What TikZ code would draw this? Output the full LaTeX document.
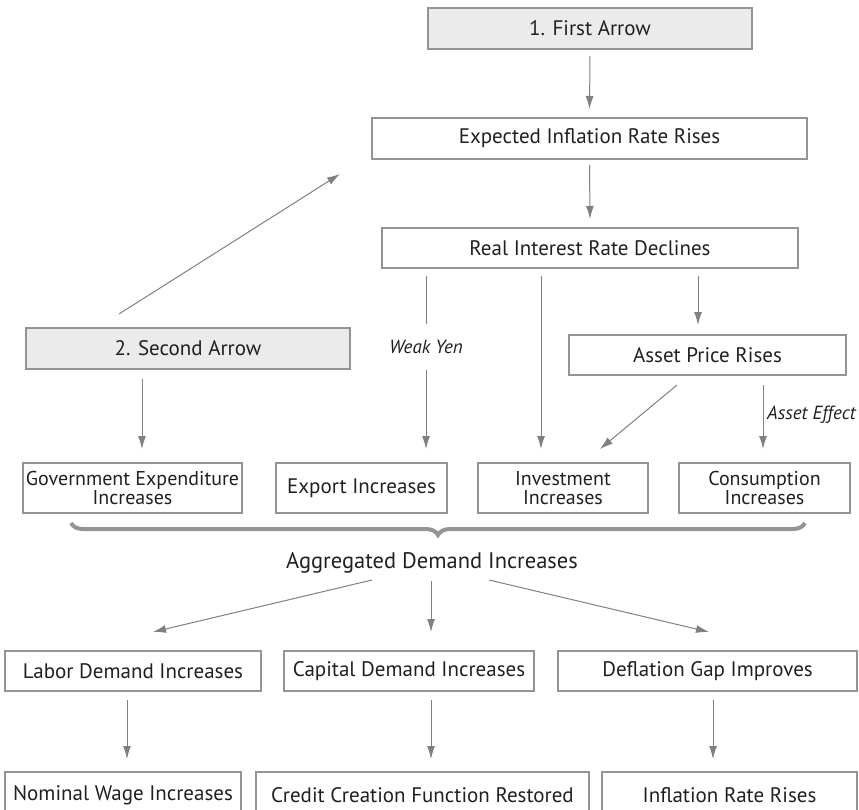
\documentclass[tikz,border=0pt]{standalone}
\usepackage{fontspec}
\setmainfont{PT Sans}
\usetikzlibrary{arrows.meta,calc,decorations.pathreplacing}
\definecolor{linegray}{HTML}{808080}
\definecolor{boxgray}{HTML}{949494}
\definecolor{fillgray}{HTML}{EBEBEC}
\definecolor{textdark}{HTML}{231F20}
\tikzset{
  box/.style={draw=boxgray, line width=2pt, rectangle, inner sep=0pt, text=textdark, align=center},
  greybox/.style={box, fill=fillgray},
  twoline/.style={font=\fontsize{20}{19}\selectfont},
  arr/.style={draw=linegray, line width=1pt, -{Latex[length=13pt,width=8pt]}},
  plain/.style={draw=linegray, line width=1pt},
  lbl/.style={text=textdark, inner sep=0pt, font=\fontsize{19}{21}\selectfont\itshape},
}
\begin{document}
\begin{tikzpicture}[x=1pt,y=-1pt]
            \useasboundingbox (0,0) rectangle (859,810);
            \clip (0,0) rectangle (859,810);
            {\fontsize{21}{23}\selectfont

            % Marking box for first arrow
            \node [greybox, minimum width=324, minimum height=41] (first) at (590,28.5) {1. First Arrow};%

            % Marking boxes of the first chain
            \node [box, minimum width=435, minimum height=41] (expect) at (589.5,138.5) {Expected Inflation Rate Rises};%
            \node [box, minimum width=416, minimum height=40] (real) at (590,248) {Real Interest Rate Declines};%

            % Marking box for second arrow
            \node [greybox, minimum width=324, minimum height=41] (second) at (188,348.5) {2. Second Arrow};%
            \node [box, minimum width=277, minimum height=40] (asset) at (707.5,355) {Asset Price Rises};%

            % Marking demand boxes
            \node [box, twoline, minimum width=219, minimum height=50] (gov) at (132.5,488) {Government Expenditure\\Increases};%
            \node [box, minimum width=171, minimum height=50] (export) at (361.5,488) {Export Increases};%
            \node [box, twoline, minimum width=170, minimum height=50] (invest) at (563,488) {Investment\\Increases};%
            \node [box, twoline, minimum width=171, minimum height=50] (consum) at (764.5,488) {Consumption\\Increases};%

            % Marking aggregated demand
            \node [text=textdark, inner sep=0pt, font=\fontsize{22.5}{24}\selectfont] (aggr) at (432,563) {Aggregated Demand Increases};%

            % Marking second row
            \node [box, minimum width=256, minimum height=40] (labor) at (133,671) {Labor Demand Increases};%
            \node [box, minimum width=250, minimum height=40] (capital) at (409,671) {Capital Demand Increases};%
            \node [box, minimum width=299, minimum height=40] (deflation) at (707.5,671) {Deflation Gap Improves};%

            % Marking last row
            \node [box, minimum width=236, minimum height=46] (nominal) at (123,795) {Nominal Wage Increases};%
            \node [box, minimum width=333, minimum height=46] (credit) at (422.5,795) {Credit Creation Function Restored};%
            \node [box, minimum width=255, minimum height=46] (inflation) at (729.5,795) {Inflation Rate Rises};%

            % Marking labels
            \node [lbl, minimum height=45] (weakyen) at (426,347) {Weak Yen};%
            \node [lbl, anchor=west] (effect) at (767,415) {Asset Effect};%

            % Drawing arrows of first chain
            \draw [arr] ($(first.south)+(0,6)$) -- ($(expect.north)+(0,-8)$);%
            \draw [arr] ($(expect.south)+(0,5)$) -- ($(real.north)+(0,-8)$);%

            % Drawing arrows from real interest rate
            \draw [plain] ($(real.south)+(-164,7)$) -- (weakyen.north);%
            \draw [arr] (weakyen.south) -- ($(export.north)+(64.5,-13)$);%
            \draw [arr] ($(real.south)+(-49,7)$) -- ($(invest.north)+(-22,-13)$);%
            \draw [arr] ($(real.south)+(108,7)$) -- ($(asset.north)+(-9.5,-9)$);%

            % Drawing arrows from asset price
            \draw [arr] ($(asset.south)+(-30.5,9)$) -- ($(invest.north)+(37,-13)$);%
            \draw [arr] ($(asset.south)+(55.5,9)$) -- ($(consum.north)+(-1.5,-13)$);%

            % Drawing arrows from second arrow
            \draw [arr] ($(second.north)+(-69,-13)$) -- ($(expect.south west)+(-31,14)$);%
            \draw [arr] ($(second.south)+(-46,9)$) -- ($(gov.north)+(9.5,-13)$);%

            % Drawing brace
            \draw [decorate, decoration={brace, mirror, amplitude=12pt}, draw=boxgray, line width=4pt] ($(gov.south west)+(49,9)$) -- ($(consum.south east)+(-46,9)$);%

            % Drawing arrows from aggregated demand
            \draw [arr] ($(aggr)+(-60,17)$) -- ($(labor.north)+(20,-18)$);%
            \draw [arr] ($(aggr)+(-1,18)$) -- ($(capital.north)+(22,-18)$);%
            \draw [arr] ($(aggr)+(57,17)$) -- ($(deflation.north)+(1.5,-18)$);%

            % Drawing arrows to last row
            \draw [arr] ($(labor.south)+(-6,8)$) -- ($(nominal.north)+(4,-12)$);%
            \draw [arr] ($(capital.south)+(22,8)$) -- ($(credit.north)+(8.5,-12)$);%
            \draw [arr] ($(deflation.south)+(5.5,8)$) -- ($(inflation.north)+(-16.5,-12)$);%
            }
\end{tikzpicture}
\end{document}
